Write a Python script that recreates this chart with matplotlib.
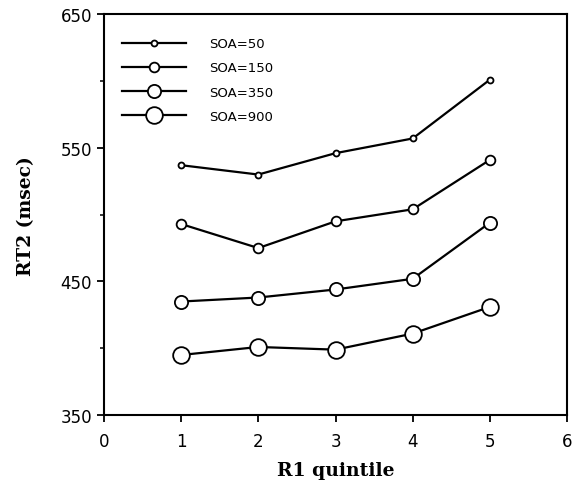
import matplotlib
matplotlib.use("Agg")
import matplotlib.pyplot as plt
from matplotlib.ticker import MultipleLocator

quintile = [1, 2, 3, 4, 5]
soa_labels = ["SOA=50", "SOA=150", "SOA=350", "SOA=900"]
rt_soa50 = [537, 530, 546, 557, 601]
rt_soa150 = [493, 475, 495, 504, 541]
rt_soa350 = [435, 438, 444, 452, 494]
rt_soa900 = [395, 401, 399, 411, 431]

series = [rt_soa50, rt_soa150, rt_soa350, rt_soa900]
marker_sizes = [4.3, 7, 9.5, 12]

fig = plt.figure(figsize=(5.74, 4.89), dpi=100)
ax = fig.add_axes([0.181, 0.149, 0.807, 0.82])

for vals, label, ms in zip(series, soa_labels, marker_sizes):
    ax.plot(quintile, vals, color="black", lw=1.6, marker="o", ms=ms,
            mfc="white", mec="black", mew=1.3, label=label)

ax.set_xlim(0, 6)
ax.set_ylim(350, 650)
ax.set_xticks(range(0, 7))
ax.set_yticks([350, 450, 550, 650])
ax.yaxis.set_minor_locator(MultipleLocator(50))
ax.tick_params(axis="both", which="major", direction="out", length=5, width=1.3,
               labelsize=12)
ax.tick_params(axis="x", which="major", pad=7)
ax.tick_params(axis="y", which="minor", direction="out", length=3, width=1.1)
for lab in ax.get_xticklabels() + ax.get_yticklabels():
    lab.set_fontfamily("DejaVu Sans")
for sp in ax.spines.values():
    sp.set_linewidth(1.5)

ax.set_xlabel("R1 quintile", family="DejaVu Serif", weight="bold",
              fontsize=13.5, labelpad=8)
ax.set_ylabel("RT2 (msec)", family="DejaVu Serif", weight="bold",
              fontsize=13.5, labelpad=18)

ax.legend(loc="upper left", bbox_to_anchor=(0.013, 0.972), frameon=False,
          prop={"family": "DejaVu Sans", "size": 9.5},
          handlelength=4.9, handletextpad=1.75, labelspacing=0.85)

fig.savefig("out.png", dpi=100)
